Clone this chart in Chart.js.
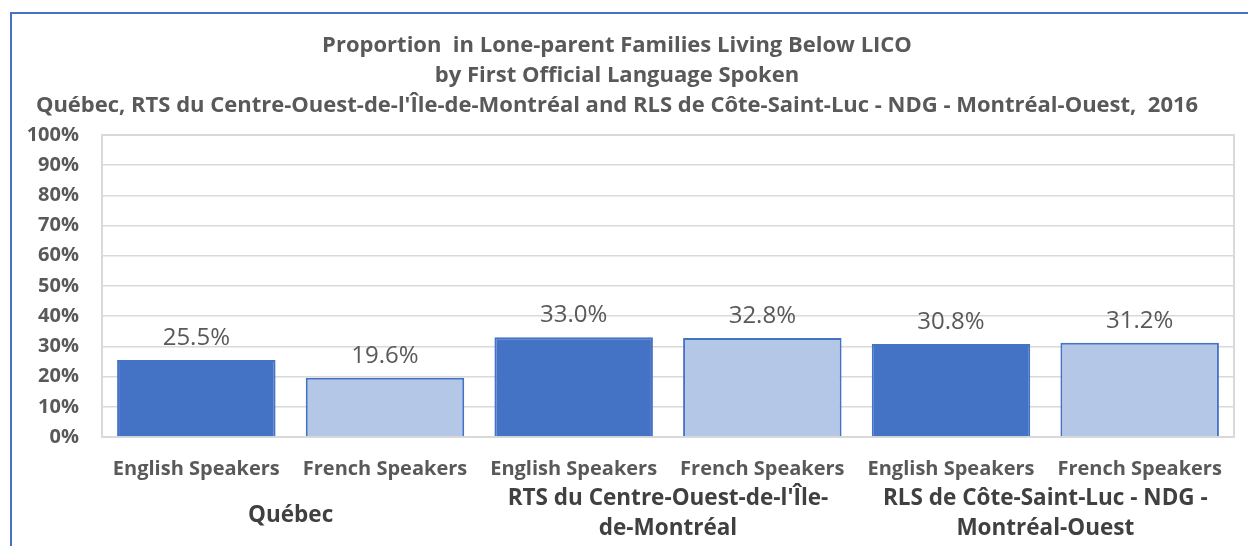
<!DOCTYPE html>
<html>
<head>
<meta charset="utf-8">
<script src="https://cdn.jsdelivr.net/npm/chart.js@4.4.1/dist/chart.umd.min.js"></script>
<style>
  html, body { margin: 0; padding: 0; background: #fff; overflow: hidden; }
  #cadre { position: absolute; left: 10px; top: 12px; width: 1400px; height: 700px; border: 2px solid #4472C4; }
  #zone { position: absolute; left: 0; top: 0; width: 1248px; height: 546px; }
</style>
</head>
<body>
<div id="cadre"></div>
<div id="zone"><canvas id="graphique"></canvas></div>
<script>
/* Données */
const categories = ['English Speakers', 'French Speakers', 'English Speakers', 'French Speakers', 'English Speakers', 'French Speakers'];
const valeurs = [25.5, 19.6, 33.0, 32.8, 30.8, 31.2];
const groupes = [['Québec'], ["RTS du Centre-Ouest-de-l'Île-", 'de-Montréal'], ['RLS de Côte-Saint-Luc - NDG -', 'Montréal-Ouest']];
const titre = [
  'Proportion  in Lone-parent Families Living Below LICO',
  'by First Official Language Spoken',
  "Québec, RTS du Centre-Ouest-de-l'Île-de-Montréal and RLS de Côte-Saint-Luc - NDG - Montréal-Ouest,  2016"
];

const fonte = '"Open Sans", "Noto Sans", sans-serif';
const gris = '#595959';
const couleurs = valeurs.map((v, i) => (i % 2 === 0 ? '#4472C4' : '#B4C7E7'));

/* Etiquettes au-dessus des barres */
const etiquettes = {
  id: 'etiquettes',
  afterDatasetsDraw(chart) {
    const ctx = chart.ctx;
    const meta = chart.getDatasetMeta(0);
    ctx.save();
    ctx.font = `400 24px ${fonte}`;
    ctx.fillStyle = gris;
    ctx.textAlign = 'center';
    ctx.textBaseline = 'middle';
    meta.data.forEach((bar, i) => {
      ctx.fillText(valeurs[i].toFixed(1) + '%', bar.x, bar.y - 22);
    });
    ctx.restore();
  }
};

/* Cadre gris de la zone de tracé */
const cadrePlot = {
  id: 'cadrePlot',
  beforeDatasetsDraw(chart) {
    const {ctx, chartArea} = chart;
    ctx.save();
    ctx.strokeStyle = '#D9D9D9';
    ctx.lineWidth = 2;
    ctx.strokeRect(chartArea.left, chartArea.top, chartArea.right - chartArea.left, chartArea.bottom - chartArea.top);
    ctx.restore();
  }
};

/* Libellés de groupes sous l'axe */
const groupesAxe = {
  id: 'groupesAxe',
  afterDraw(chart) {
    const ctx = chart.ctx;
    const x = chart.scales.x;
    const bas = chart.chartArea.bottom;
    ctx.save();
    ctx.font = `700 22.5px ${fonte}`;
    ctx.fillStyle = '#404040';
    ctx.textAlign = 'center';
    ctx.textBaseline = 'middle';
    groupes.forEach((lignes, g) => {
      const cx = (x.getPixelForValue(g * 2) + x.getPixelForValue(g * 2 + 1)) / 2;
      if (lignes.length === 1) {
        ctx.fillText(lignes[0], cx, bas + 79);
      } else {
        lignes.forEach((l, k) => ctx.fillText(l, cx, bas + 62 + k * 30));
      }
    });
    ctx.restore();
  }
};

const ctx = document.getElementById('graphique').getContext('2d');
new Chart(ctx, {
  type: 'bar',
  data: {
    labels: categories,
    datasets: [{
      data: valeurs,
      backgroundColor: couleurs,
      borderColor: '#4472C4',
      borderWidth: 2,
      categoryPercentage: 1,
      barPercentage: 0.84
    }]
  },
  options: {
    responsive: true,
    maintainAspectRatio: false,
    animation: false,
    layout: { padding: { left: 0, right: 14, top: 0, bottom: 0 } },
    plugins: {
      legend: { display: false },
      tooltip: { enabled: false },
      title: {
        display: true,
        text: titre,
        color: gris,
        font: { family: fonte, size: 22, weight: '700', lineHeight: 1.386 },
        padding: { top: 30, bottom: 13.5 }
      }
    },
    scales: {
      x: {
        grid: { display: false, drawTicks: false },
        border: { display: false },
        ticks: { color: gris, font: { family: fonte, size: 20, weight: '700' }, padding: 20, maxRotation: 0, autoSkip: false },
        afterFit(scale) { scale.height = 109; }
      },
      y: {
        min: 0,
        max: 100,
        grid: { color: '#D9D9D9', lineWidth: 1.5, drawTicks: false },
        border: { display: false },
        ticks: {
          stepSize: 10,
          color: gris,
          padding: 23,
          font: { family: fonte, size: 20, weight: '700' },
          callback: v => v + '%'
        },
        afterFit(scale) { scale.width = 102; }
      }
    }
  },
  plugins: [cadrePlot, etiquettes, groupesAxe]
});
</script>
</body>
</html>
